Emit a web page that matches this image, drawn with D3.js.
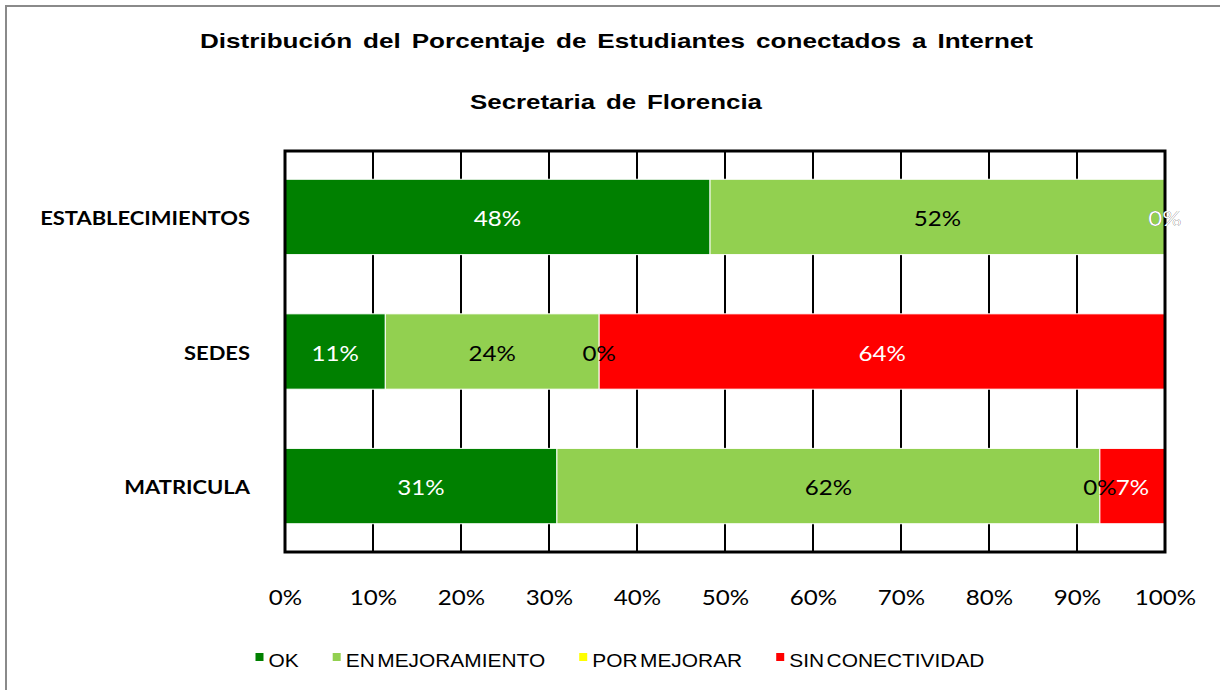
<!DOCTYPE html>
<html>
<head>
<meta charset="utf-8">
<script src="https://cdn.jsdelivr.net/npm/d3@7"></script>
<style>
  body { margin: 0; background: #fff; }
  svg { display: block; }
</style>
</head>
<body>
<svg width="1220" height="690"></svg>
<script>
// datos del grafico
var categorias = ['ESTABLECIMIENTOS', 'SEDES', 'MATRICULA'];
var series = ['OK', 'EN MEJORAMIENTO', 'POR MEJORAR', 'SIN CONECTIVIDAD'];
var ok = [48.3, 11.4, 30.9];
var enMejoramiento = [51.7, 24.3, 61.7];
var porMejorar = [0, 0, 0];
var sinConectividad = [0, 64.3, 7.4];
var ticks = [0, 10, 20, 30, 40, 50, 60, 70, 80, 90, 100];

var colores = ['#008000', '#92d050', '#ffff00', '#ff0000'];
var coloresTexto = ['#fff', '#000', '#000', '#fff'];

// el original esta estirado a lo ancho
var estiro = 1.15;

var svg = d3.select('svg');

// marco exterior
svg.append('rect')
  .attr('x', 6).attr('y', 6)
  .attr('width', 1240).attr('height', 700)
  .attr('fill', 'none')
  .attr('stroke', '#8a8a8a')
  .attr('stroke-width', 2);

// titulos
svg.append('text')
  .attr('x', 200).attr('y', 48)
  .attr('textLength', 833)
  .attr('lengthAdjust', 'spacingAndGlyphs')
  .style('font-family', 'Liberation Sans, Arial, sans-serif')
  .style('font-weight', 'bold')
  .style('font-size', '21px')
  .style('word-spacing', '3px')
  .text('Distribución del Porcentaje de Estudiantes conectados a Internet');

svg.append('text')
  .attr('x', 470).attr('y', 109)
  .attr('textLength', 292)
  .attr('lengthAdjust', 'spacingAndGlyphs')
  .style('font-family', 'Liberation Sans, Arial, sans-serif')
  .style('font-weight', 'bold')
  .style('font-size', '21px')
  .style('word-spacing', '3px')
  .text('Secretaria de Florencia');

// escalas
var x = d3.scaleLinear().domain([0, 100]).range([285, 1165]);
var y = d3.scaleBand()
  .domain(categorias)
  .range([151, 552])
  .paddingInner(0.44)
  .paddingOuter(0.21);

// tabla para d3.stack
var tabla = categorias.map(function(c, i) {
  return {
    categoria: c,
    'OK': ok[i],
    'EN MEJORAMIENTO': enMejoramiento[i],
    'POR MEJORAR': porMejorar[i],
    'SIN CONECTIVIDAD': sinConectividad[i]
  };
});
var apilado = d3.stack().keys(series)(tabla);

// lineas de division
svg.append('g')
  .selectAll('line')
  .data(ticks)
  .enter().append('line')
  .attr('x1', function(d) { return x(d); })
  .attr('x2', function(d) { return x(d); })
  .attr('y1', 151).attr('y2', 552)
  .attr('stroke', '#000')
  .attr('stroke-width', 2);

// barras
var capas = svg.append('g')
  .selectAll('g')
  .data(apilado)
  .enter().append('g')
  .attr('fill', function(d, i) { return colores[i]; });

capas.selectAll('rect')
  .data(function(d) { return d; })
  .enter().append('rect')
  .attr('x', function(d) { return x(d[0]); })
  .attr('y', function(d) { return y(d.data.categoria); })
  .attr('width', function(d) { return x(d[1]) - x(d[0]); })
  .attr('height', y.bandwidth())
  .attr('stroke', '#fff')
  .attr('stroke-width', function(d) { return d[1] - d[0] > 0 ? 1 : 0; });

// marco del area de trazado
svg.append('rect')
  .attr('x', x(0)).attr('y', 151)
  .attr('width', x(100) - x(0)).attr('height', 401)
  .attr('fill', 'none')
  .attr('stroke', '#000')
  .attr('stroke-width', 3);

// etiquetas de valores
apilado.forEach(function(s, i) {
  svg.append('g')
    .selectAll('text')
    .data(s)
    .enter().append('text')
    .attr('transform', function(d) {
      var cx = (x(d[0]) + x(d[1])) / 2;
      var cy = y(d.data.categoria) + y.bandwidth() / 2 + 9;
      return 'translate(' + cx + ',' + cy + ') scale(' + estiro + ',1)';
    })
    .attr('text-anchor', 'middle')
    .attr('fill', coloresTexto[i])
    .style('font-family', 'Lato, Carlito, sans-serif')
    .style('font-size', '21px')
    .text(function(d) { return Math.round(d[1] - d[0]) + '%'; });
});

// eje de categorias
var ejeY = svg.append('g')
  .attr('transform', 'translate(250,2)')
  .call(d3.axisLeft(y).tickSize(0).tickPadding(0));
ejeY.select('.domain').remove();
ejeY.selectAll('text')
  .attr('dy', '0.35em')
  .attr('transform', 'scale(1.22,1)')
  .style('font-family', 'Lato, Carlito, sans-serif')
  .style('font-weight', 'bold')
  .style('font-size', '18px')
  .attr('fill', '#000');

// eje de porcentajes
var ejeX = svg.append('g')
  .attr('transform', 'translate(0,552)')
  .call(d3.axisBottom(x).tickValues(ticks).tickSize(0).tickPadding(0)
    .tickFormat(function(d) { return d + '%'; }));
ejeX.select('.domain').remove();
ejeX.selectAll('text')
  .attr('y', 53).attr('dy', 0)
  .attr('transform', 'scale(' + estiro + ',1)')
  .style('font-family', 'Lato, Carlito, sans-serif')
  .style('font-size', '21px')
  .attr('fill', '#000');

// leyenda
var estiroLeyenda = 1.1;
var leyenda = svg.append('g');
var items = leyenda.selectAll('g')
  .data(series)
  .enter().append('g');
items.append('rect')
  .attr('width', 8).attr('height', 8)
  .attr('y', 653)
  .attr('fill', function(d, i) { return colores[i]; });
items.append('text')
  .style('font-family', 'Liberation Sans, Arial, sans-serif')
  .style('font-size', '19px')
  .style('word-spacing', '-3px')
  .text(function(d) { return d; });

var pos = 0;
var offsets = [];
items.each(function() {
  var w = d3.select(this).select('text').node().getComputedTextLength() * estiroLeyenda;
  offsets.push(pos);
  pos += 13 + w + 34;
});
var total = pos - 34;
var inicio = 620 - total / 2;
items.each(function(d, i) {
  var g = d3.select(this);
  g.select('rect').attr('x', inicio + offsets[i]);
  g.select('text').attr('transform',
    'translate(' + (inicio + offsets[i] + 13) + ',667) scale(' + estiroLeyenda + ',1)');
});
</script>
</body>
</html>
